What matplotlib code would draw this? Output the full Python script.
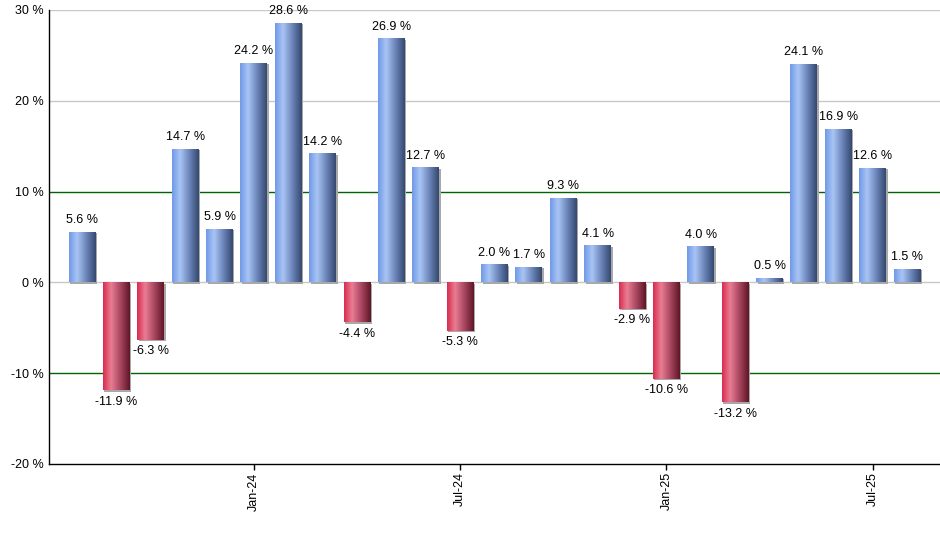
import numpy as np
import matplotlib
matplotlib.use("Agg")
import matplotlib.pyplot as plt
from matplotlib.colors import LinearSegmentedColormap
import matplotlib.transforms as mtransforms

months = ["Aug-23", "Sep-23", "Oct-23", "Nov-23", "Dec-23", "Jan-24", "Feb-24", "Mar-24",
          "Apr-24", "May-24", "Jun-24", "Jul-24", "Aug-24", "Sep-24", "Oct-24", "Nov-24",
          "Dec-24", "Jan-25", "Feb-25", "Mar-25", "Apr-25", "May-25", "Jun-25", "Jul-25", "Aug-25"]
values = [5.6, -11.9, -6.3, 14.7, 5.9, 24.2, 28.6, 14.2, -4.4, 26.9, 12.7, -5.3, 2.0, 1.7,
          9.3, 4.1, -2.9, -10.6, 4.0, -13.2, 0.5, 24.1, 16.9, 12.6, 1.5]
tick_labels = ["Jan-24", "Jul-24", "Jan-25", "Jul-25"]
y_ticks = [-20, -10, 0, 10, 20, 30]

plt.rcParams['font.family'] = ['Liberation Sans', 'DejaVu Sans']
FS = 9

fig = plt.figure(figsize=(9.4, 5.5), dpi=100)
ax = fig.add_axes([49/940, 86/550, 1 - 49/940, 454/550])

x = np.arange(len(values))
width = 0.78

blue_cmap = LinearSegmentedColormap.from_list(
    "b", [(0, "#6f98e6"), (0.3, "#a9c5f5"), (0.65, "#6b84b8"), (1, "#34486f")])
red_cmap = LinearSegmentedColormap.from_list(
    "r", [(0, "#d82a4e"), (0.3, "#e97d93"), (0.65, "#a84660"), (1, "#5e1525")])

ax.set_xlim(-0.96, len(values) - 0.04)
ax.set_ylim(-20, 30)

# gridlines
for yv in y_ticks:
    if yv in (10, -10):
        ax.axhline(yv, color="#006400", lw=1.0, zorder=1)
    elif yv != -20:
        ax.axhline(yv, color="#c8c8c8", lw=1.0, zorder=1)

# shadows
shadow_tr = mtransforms.offset_copy(ax.transData, fig=fig, x=1.5, y=-1.5, units='dots')
for xi, v in zip(x, values):
    ax.bar(xi, v, width=width, color="#a8a8a8", transform=shadow_tr, zorder=2, linewidth=0)

bars = ax.bar(x, values, width=width, color="none", linewidth=0, zorder=3)
grad = np.linspace(0, 1, 256).reshape(1, -1)
for b, v in zip(bars, values):
    x0 = b.get_x()
    x1 = x0 + b.get_width()
    y0, y1 = (0, v) if v >= 0 else (v, 0)
    im = ax.imshow(grad, cmap=blue_cmap if v >= 0 else red_cmap, aspect='auto',
                   extent=(x0, x1, y0, y1), zorder=3, interpolation='bilinear')
    im.set_clip_path(b)

for xi, v in zip(x, values):
    if v >= 0:
        ax.annotate(f"{v:.1f} %", (xi, v), xytext=(0, 4), textcoords='offset points',
                    ha='center', va='bottom', fontsize=FS, zorder=4)
    else:
        ax.annotate(f"{v:.1f} %", (xi, v), xytext=(0, -4), textcoords='offset points',
                    ha='center', va='top', fontsize=FS, zorder=4)

ax.set_xlim(-0.96, len(values) - 0.04)
ax.set_ylim(-20, 30)

ax.set_yticks(y_ticks)
ax.set_yticklabels([f"{t} %" for t in y_ticks], fontsize=FS)
ax.tick_params(axis='y', length=0, pad=4)

tick_pos = [months.index(t) for t in tick_labels]
ax.set_xticks(tick_pos)
ax.set_xticklabels(tick_labels, rotation=90, fontsize=FS)
ax.tick_params(axis='x', length=4, width=1, pad=2, color='black')

for s in ("top", "right"):
    ax.spines[s].set_visible(False)
for s in ("left", "bottom"):
    ax.spines[s].set_color("black")
    ax.spines[s].set_linewidth(1.0)

fig.savefig("out.png", dpi=100)
